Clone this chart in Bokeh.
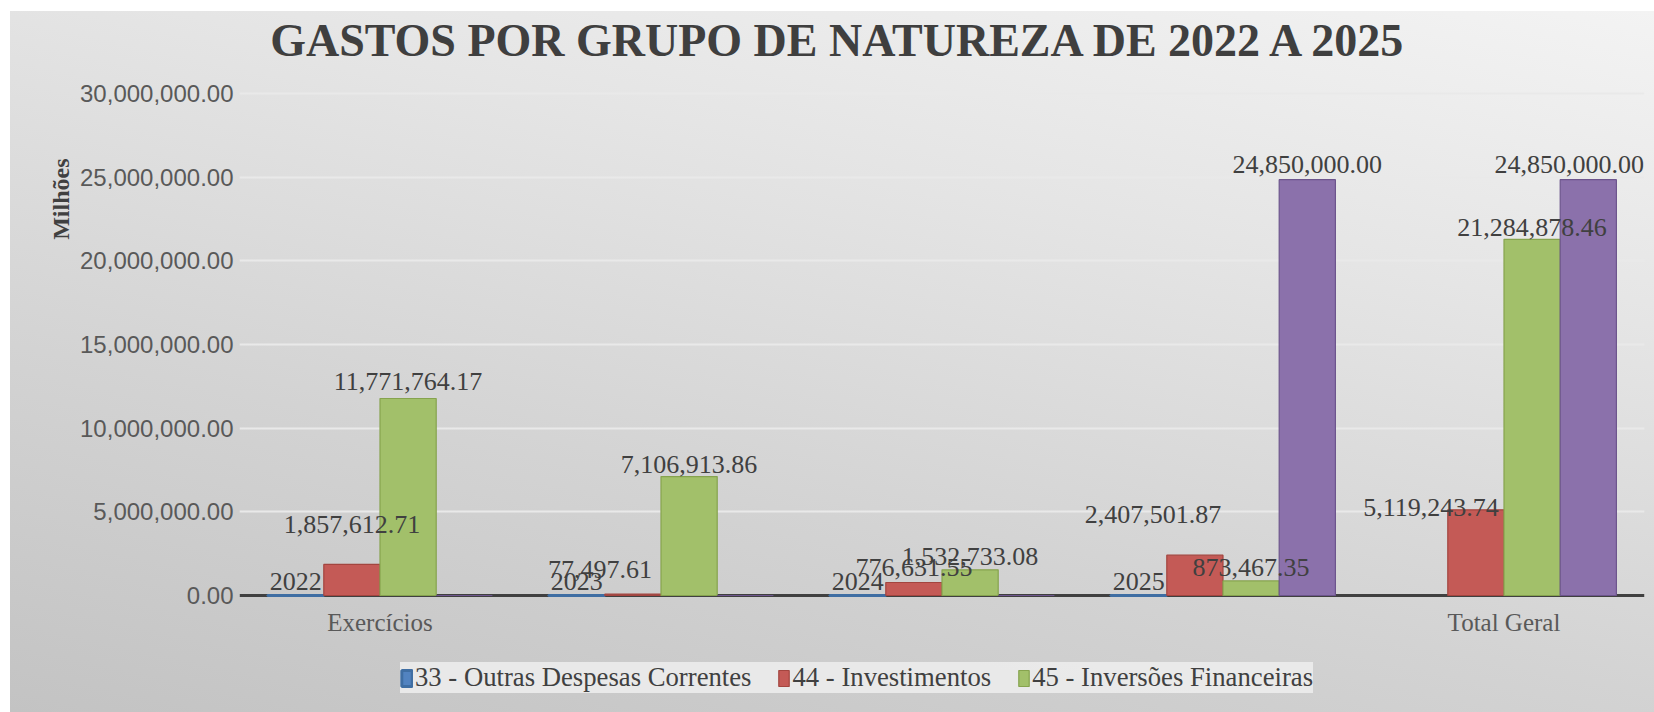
import math
import numpy as np
from bokeh.plotting import figure
from bokeh.models import (ColumnDataSource, Range1d, FixedTicker, NumeralTickFormatter,
                          Span, Title, Label, Legend, LegendItem)
from bokeh.transform import dodge
from bokeh.core.properties import value
from bokeh.embed import file_html
from bokeh.resources import INLINE

# ---------------- data ----------------
groups = ["2022", "2023", "2024", "2025", "Total Geral"]
axis_labels = ["Exercícios", "", "", "", "Total Geral"]
series_names = ["33 - Outras Despesas Correntes", "44 - Investimentos",
                "45 - Inversões Financeiras", "Total"]
outras_despesas = [2022, 2023, 2024, 2025, float("nan")]
investimentos = [1857612.71, 77497.61, 776631.55, 2407501.87, 5119243.74]
inversoes = [11771764.17, 7106913.86, 1532733.08, 873467.35, 21284878.46]
total = [0.0, 0.0, 0.0, 24850000.00, 24850000.00]
y_ticks = [0, 5000000, 10000000, 15000000, 20000000, 25000000, 30000000]
title_text = "GASTOS POR GRUPO DE NATUREZA DE 2022 A 2025"
unit_text = "Milhões"

# ---------------- styles ----------------
W, H = 1654, 712
offsets = [-0.3, -0.1, 0.1, 0.3]
fills = ["#5283c0", "#c45a56", "#a2c06a", "#8b71ab"]
lines = ["#3f6ea3", "#a3453f", "#86a34e", "#6d558d"]
lws = [3, 1.2, 1.2, 1.2]
label_dx = [[0, 0, 0, 0, 0], [0, -33, 0, -42, -45], [0, 0, 0, 0, 0], [0, 0, 0, 0, -19]]
label_dy = [[14, 14, 14, 14, 14], [40, 25, 15, 41, 2], [17, 12, 13, 13, 12], [15, 15, 15, 15, 15]]
serif = "Liberation Serif"

xi = list(range(len(groups)))

# plot frame spans the full height: 30M at y=93px, 0 at y=595px
px_per_unit = (595 - 93) / 30000000
y_top = 595 / px_per_unit
y_bottom = -(H - 595) / px_per_unit

p = figure(width=W, height=H, x_range=Range1d(-0.5, len(groups) - 0.5),
           y_range=Range1d(y_bottom, y_top),
           output_backend="svg", toolbar_location=None,
           min_border_left=239, min_border_right=10, min_border_top=0, min_border_bottom=0)
p.border_fill_color = None
p.background_fill_color = None
p.outline_line_color = None
p.styles = {
    "background-color": "white",
    "background-image": "linear-gradient(12deg, #c3c3c3 0%, #d3d3d3 35%, #e5e5e5 70%, #f3f3f3 100%)",
    "background-repeat": "no-repeat",
    "background-position": "10px 11px",
    "background-size": "calc(100% - 10px) calc(100% - 11px)",
}

p.add_layout(Title(text=unit_text, align="right", offset=158, standoff=7,
                   text_font=serif, text_font_style="bold", text_font_size="24px",
                   text_color="#404040"), "left")

p.add_layout(Label(x=601, y=H - 40, x_units="screen", y_units="screen",
                   text=title_text, text_font=serif, text_font_style="bold",
                   text_font_size="46px", text_color="#3f3f3f",
                   text_align="center", text_baseline="middle"))

p.xgrid.visible = False
p.ygrid.grid_line_color = "#e9e9e9"
p.ygrid.grid_line_width = 2

p.yaxis.ticker = FixedTicker(ticks=y_ticks)
p.yaxis.formatter = NumeralTickFormatter(format="0,0.00")
p.yaxis.axis_line_color = None
p.yaxis.major_tick_line_color = None
p.yaxis.minor_tick_line_color = None
p.yaxis.major_label_text_font = "Liberation Sans"
p.yaxis.major_label_text_font_size = "24px"
p.yaxis.major_label_text_color = "#595959"
p.yaxis.major_label_standoff = 0

p.xaxis.fixed_location = 0
p.xaxis.ticker = FixedTicker(ticks=xi)
p.xaxis.major_label_overrides = {i: lab for i, lab in zip(xi, axis_labels)}
p.xaxis.axis_line_color = None
p.xaxis.major_tick_line_color = None
p.xaxis.minor_tick_line_color = None
p.xaxis.major_label_text_font = serif
p.xaxis.major_label_text_font_size = "25px"
p.xaxis.major_label_text_color = "#595959"
p.xaxis.major_label_standoff = 7

p.add_layout(Span(location=0, dimension="width", line_color="#404040",
                  line_width=3, level="underlay"))

series_values = [outras_despesas, investimentos, inversoes, total]


def fmt(i, v):
    if v != v or (i > 0 and v == 0):
        return ""
    return f"{v:.0f}" if i == 0 else f"{v:,.2f}"


renderers = []
sources = []
for i, vals in enumerate(series_values):
    arr = np.array(vals, dtype=float)
    src = ColumnDataSource(dict(xi=xi, top=arr, ly=np.nan_to_num(arr),
                                text=[fmt(i, v) for v in vals],
                                dx=label_dx[i], dy=[-d for d in label_dy[i]]))
    sources.append(src)
    r = p.vbar(x=dodge("xi", offsets[i]), top="top", bottom=0,
               width=0.2, source=src, fill_color=fills[i], line_color=lines[i],
               line_width=lws[i])
    renderers.append(r)

for i, src in enumerate(sources):
    p.text(x=dodge("xi", offsets[i]), y="ly", text="text",
           x_offset="dx", y_offset="dy", source=src,
           text_font=value(serif), text_font_size="26px", text_color="#404040",
           text_align="center", text_baseline="middle")

legend = Legend(items=[LegendItem(label=series_names[i], renderers=[renderers[i]])
                       for i in range(3)],
                orientation="horizontal", location=(161, 19), margin=0,
                padding=12, spacing=26, label_standoff=2,
                glyph_width=13, glyph_height=20,
                label_text_font="Liberation Sans Narrow", label_text_font_size="26.7px",
                label_text_color="#404040",
                background_fill_color="#ececec", background_fill_alpha=0.9,
                border_line_color=None)
p.add_layout(legend)

open("out.html", "w").write(file_html(p, INLINE))
